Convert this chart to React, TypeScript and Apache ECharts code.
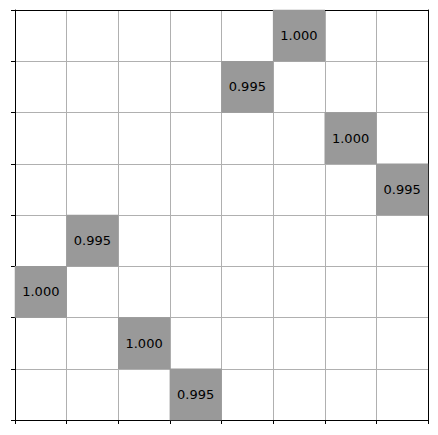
import React, { useEffect, useRef } from "react";
import * as echarts from "echarts";

const xCategories = ["0", "1", "2", "3", "4", "5", "6", "7"];
const yCategories = ["0", "1", "2", "3", "4", "5", "6", "7"];
// filled cells: row (from top), column, value
const cellRows = [0, 1, 2, 3, 4, 5, 6, 7];
const cellCols = [5, 4, 6, 7, 1, 0, 2, 3];
const cellValues = [1.0, 0.995, 1.0, 0.995, 0.995, 1.0, 1.0, 0.995];

export default function App() {
  const ref = useRef<HTMLDivElement>(null);
  useEffect(() => {
    if (!ref.current) return;
    const chart = echarts.init(ref.current, undefined, { renderer: "svg" });
    const data = cellRows.map((r, i) => [cellCols[i], r, cellValues[i]]);
    const spine = { show: true, lineStyle: { color: "#000", width: 1 } };
    chart.setOption({
      animation: false,
      backgroundColor: "#fff",
      grid: { left: 15, right: 10, top: 10, bottom: 15 },
      visualMap: {
        show: false,
        min: 0,
        max: 1,
        seriesIndex: 0,
        inRange: { color: ["#999999", "#999999"] },
      },
      xAxis: [
        {
          type: "category",
          data: xCategories,
          position: "bottom",
          boundaryGap: true,
          axisLine: spine,
          axisTick: { show: true, inside: false, length: 4, lineStyle: { color: "#000" } },
          axisLabel: { show: false },
          splitLine: { show: true, interval: 0, lineStyle: { color: "#b0b0b0", width: 1 } },
        },
        {
          type: "category",
          data: xCategories,
          position: "top",
          axisLine: spine,
          axisTick: { show: false },
          axisLabel: { show: false },
          splitLine: { show: false },
        },
      ],
      yAxis: [
        {
          type: "category",
          data: yCategories,
          inverse: true,
          position: "left",
          boundaryGap: true,
          axisLine: spine,
          axisTick: { show: true, inside: false, length: 4, lineStyle: { color: "#000" } },
          axisLabel: { show: false },
          splitLine: { show: true, interval: 0, lineStyle: { color: "#b0b0b0", width: 1 } },
        },
        {
          type: "category",
          data: yCategories,
          inverse: true,
          position: "right",
          axisLine: spine,
          axisTick: { show: false },
          axisLabel: { show: false },
          splitLine: { show: false },
        },
      ],
      series: [
        {
          type: "heatmap",
          xAxisIndex: 0,
          yAxisIndex: 0,
          data,
          label: {
            show: true,
            color: "#000",
            fontFamily: "DejaVu Sans",
            fontSize: 13,
            formatter: (p: any) => Number(p.value[2]).toFixed(3),
          },
          emphasis: { disabled: true },
        },
      ],
    });
    return () => chart.dispose();
  }, []);
  return (
    <div
      ref={ref}
      style={{ position: "fixed", left: 0, top: 0, width: 438, height: 435 }}
    />
  );
}
